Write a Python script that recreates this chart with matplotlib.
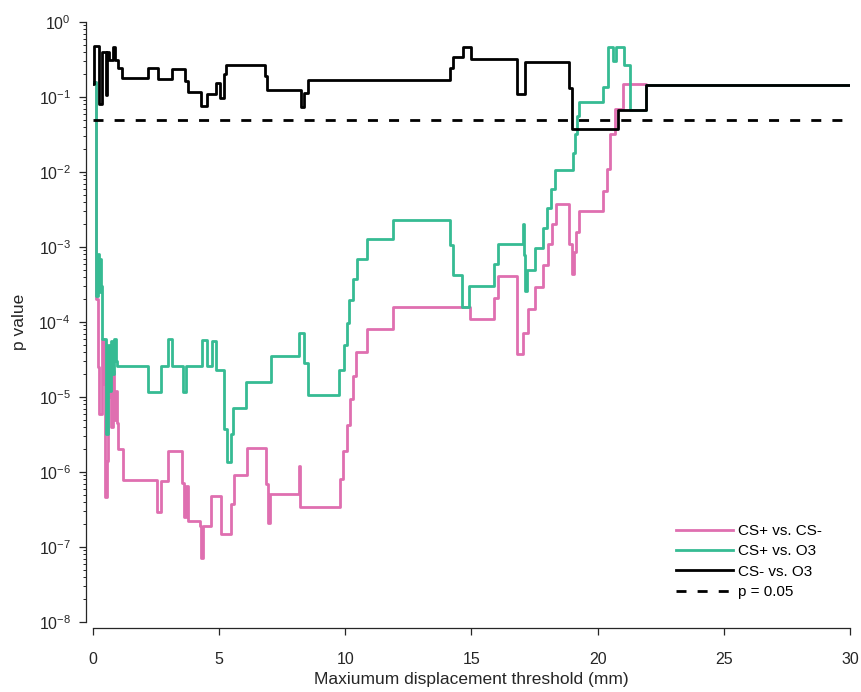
import matplotlib

matplotlib.use("Agg")
import matplotlib.pyplot as plt
from matplotlib.ticker import LogLocator, NullFormatter

plt.rcParams["font.family"] = ["Liberation Sans", "DejaVu Sans"]
plt.rcParams["mathtext.fontset"] = "custom"
plt.rcParams["mathtext.rm"] = "Liberation Sans"
plt.rcParams["mathtext.it"] = "Liberation Sans:italic"
plt.rcParams["mathtext.bf"] = "Liberation Sans:bold"

# thresholds (mm) where each p value starts, and the p value from there on
cs_plus_cs_minus_x = [
    0.00, 0.12, 0.20, 0.25, 0.34, 0.42, 0.48, 0.54, 0.58, 0.66, 0.72, 0.78,
    0.85, 0.92, 0.96, 1.00, 1.18, 2.55, 2.70, 2.98, 3.51, 3.62, 3.70, 3.78,
    4.24, 4.29, 4.35, 4.68, 5.07, 5.46, 5.59, 6.09, 6.84, 6.93, 7.00, 8.18,
    8.22, 9.79, 9.92, 10.05, 10.18, 10.30, 10.43, 10.85, 11.88, 14.94, 15.89,
    16.06, 16.82, 17.03, 17.25, 17.52, 17.82, 18.05, 18.18, 18.35, 18.87,
    18.98, 19.05, 19.15, 19.27, 20.23, 20.36, 20.48, 20.69, 21.02, 21.90, 30.0,
]
cs_plus_cs_minus_p = [
    0.16, 2.0e-4, 2.5e-5, 5.9e-6, 6e-5, 1.5e-5, 4.6e-7, 1.4e-6, 1e-5, 2.3e-5,
    4e-6, 2.2e-5, 5e-6, 1.2e-5, 4.5e-6, 2e-6, 7.9e-7, 2.9e-7, 7.6e-7, 1.9e-6,
    7.1e-7, 2.5e-7, 6.5e-7, 2.2e-7, 1.9e-7, 7.2e-8, 1.9e-7, 4.8e-7, 1.5e-7,
    3.8e-7, 9.1e-7, 2.1e-6, 6.9e-7, 2.1e-7, 5.1e-7, 1.2e-6, 3.4e-7, 8e-7,
    1.9e-6, 4.2e-6, 9.3e-6, 1.9e-5, 4e-5, 8e-5, 1.6e-4, 1.1e-4, 2.1e-4,
    4.1e-4, 3.7e-5, 7.2e-5, 1.5e-4, 2.9e-4, 5.7e-4, 1.1e-3, 2.0e-3, 3.8e-3,
    1.1e-3, 4.4e-4, 8.5e-4, 1.6e-3, 3.0e-3, 5.6e-3, 1.1e-2, 3.2e-2, 0.069,
    0.15, 0.145, 0.145,
]

cs_plus_o3_x = [
    0.00, 0.12, 0.20, 0.24, 0.27, 0.30, 0.34, 0.50, 0.60, 0.66, 0.72, 0.78,
    0.84, 0.90, 0.96, 2.19, 2.68, 2.98, 3.12, 3.55, 3.69, 4.31, 4.53, 4.70,
    4.86, 5.20, 5.30, 5.45, 5.55, 6.06, 7.04, 8.16, 8.36, 8.51, 9.76, 9.95,
    10.05, 10.16, 10.29, 10.45, 10.87, 11.88, 14.15, 14.25, 14.64, 14.92,
    15.90, 16.06, 17.03, 17.09, 17.14, 17.19, 17.52, 17.82, 18.00, 18.14,
    18.30, 19.01, 19.10, 19.20, 19.27, 20.20, 20.42, 20.62, 20.72, 21.05,
    21.30, 21.90, 30.0,
]
cs_plus_o3_p = [
    0.16, 2.2e-4, 8e-4, 2.5e-4, 7e-4, 3e-4, 6e-5, 3.2e-6, 5e-5, 1.2e-5,
    5.5e-5, 2e-5, 6e-5, 3e-5, 2.6e-5, 1.17e-5, 2.6e-5, 6e-5, 2.6e-5, 1.17e-5,
    2.6e-5, 5.8e-5, 2.6e-5, 5.6e-5, 2.3e-5, 3.7e-6, 1.35e-6, 3.2e-6, 7.2e-6,
    1.6e-5, 3.5e-5, 7.2e-5, 2.8e-5, 1.07e-5, 2.3e-5, 5e-5, 9.8e-5, 1.95e-4,
    3.7e-4, 6.9e-4, 1.28e-3, 2.3e-3, 1.05e-3, 4.2e-4, 1.6e-4, 3.0e-4, 6.0e-4,
    1.1e-3, 2.0e-3, 7.8e-4, 2.6e-4, 5.0e-4, 9.6e-4, 1.8e-3, 3.3e-3, 5.9e-3,
    1.07e-2, 1.8e-2, 3.2e-2, 5.5e-2, 8.7e-2, 0.138, 0.47, 0.30, 0.47, 0.27,
    0.068, 0.145, 0.145,
]

cs_minus_o3_x = [
    0.00, 0.05, 0.25, 0.34, 0.50, 0.57, 0.65, 0.80, 0.87, 1.00, 1.14, 2.19,
    2.56, 3.12, 3.65, 3.75, 4.27, 4.53, 4.86, 5.03, 5.19, 5.27, 6.82, 6.90,
    8.23, 8.36, 8.53, 14.15, 14.28, 14.65, 14.97, 16.82, 17.12, 18.88, 18.98,
    20.82, 21.90, 30.0,
]
cs_minus_o3_p = [
    0.15, 0.48, 0.08, 0.40, 0.105, 0.40, 0.31, 0.46, 0.31, 0.24, 0.18, 0.24,
    0.175, 0.235, 0.165, 0.115, 0.075, 0.108, 0.155, 0.098, 0.20, 0.27, 0.19,
    0.124, 0.074, 0.114, 0.168, 0.24, 0.34, 0.46, 0.326, 0.108, 0.29, 0.133,
    0.037, 0.068, 0.145, 0.145,
]

alpha_level = 0.05
series_labels = ["CS+ vs. CS-", "CS+ vs. O3", "CS- vs. O3", "p = 0.05"]
series_colors = ["#DF6FB0", "#36BB93", "#000000"]
x_ticks = [0, 5, 10, 15, 20, 25, 30]
y_ticks = [1e-8, 1e-7, 1e-6, 1e-5, 1e-4, 1e-3, 1e-2, 1e-1, 1e0]


def save_fig(fig, name):
    fig.savefig(name, dpi=100)
    plt.close(fig)
    return name


def plot_p_values():
    fig = plt.figure(figsize=(8.62, 6.92), dpi=100)
    ax = fig.add_axes([93 / 862, 1 - 622 / 692, (850 - 93) / 862, 600 / 692])

    curves = [
        (cs_plus_cs_minus_x, cs_plus_cs_minus_p),
        (cs_plus_o3_x, cs_plus_o3_p),
        (cs_minus_o3_x, cs_minus_o3_p),
    ]
    for (xs, ps), color, label in zip(curves, series_colors, series_labels):
        ax.plot(xs, ps, drawstyle="steps-post", color=color, lw=2.0, label=label)
    ax.plot([0, 30], [alpha_level, alpha_level], color="black", lw=2.0,
            dashes=(3.6, 4.0), label=series_labels[3])

    ax.set_yscale("log")
    ax.set_ylim(1e-8, 1)
    ax.set_xlim(0, 30)
    ax.set_xticks(x_ticks)
    ax.set_yticks(y_ticks)
    ax.yaxis.set_minor_locator(LogLocator(base=10, subs=range(2, 10), numticks=20))
    ax.yaxis.set_minor_formatter(NullFormatter())

    for side in ["top", "right"]:
        ax.spines[side].set_visible(False)
    ax.spines["left"].set_position(("outward", 5))
    ax.spines["bottom"].set_position(("outward", 4.5))
    for side in ["left", "bottom"]:
        ax.spines[side].set_color("#262626")
        ax.spines[side].set_linewidth(0.9)
    ax.tick_params(which="major", direction="out", length=5, width=0.9,
                   color="#262626", labelcolor="#262626", labelsize=11.5)
    ax.tick_params(which="minor", direction="out", length=2.5, width=0.7,
                   color="#262626")
    ax.tick_params(axis="x", pad=12)
    ax.tick_params(axis="y", pad=6)

    ax.set_xlabel("Maxiumum displacement threshold (mm)", fontsize=12.5,
                  color="#262626", labelpad=4)
    ax.set_ylabel("p value", fontsize=12.5, color="#262626", labelpad=8)

    ax.legend(loc="upper left", bbox_to_anchor=(676 / 862, 1 - 524 / 692),
              bbox_transform=fig.transFigure, frameon=False, fontsize=11,
              handlelength=3.7, handletextpad=0.35, labelspacing=0.42,
              borderpad=0, borderaxespad=0)

    return save_fig(fig, "out.png")


def main():
    print(plot_p_values())


if __name__ == "__main__":
    main()
